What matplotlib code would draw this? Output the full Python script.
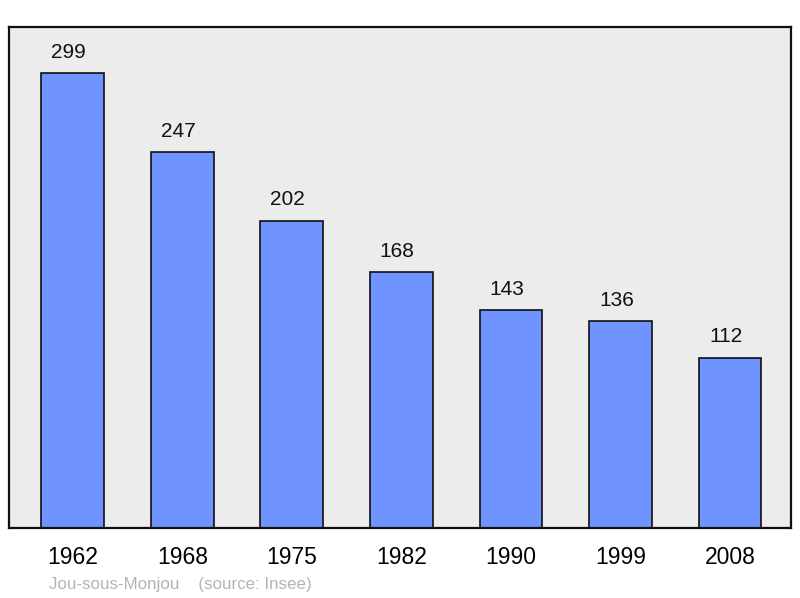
import matplotlib
matplotlib.use("Agg")
import matplotlib.pyplot as plt

years = ["1962", "1968", "1975", "1982", "1990", "1999", "2008"]
population = [299, 247, 202, 168, 143, 136, 112]

plt.rcParams['font.family'] = ['Liberation Sans', 'DejaVu Sans']

fig = plt.figure(figsize=(8, 5.98), dpi=100)
ax = fig.add_axes([9/800, 70/598, 782/800, 501/598])
ax.set_facecolor('#ececec')
ax.set_xlim(-0.584, 6.557)
ax.set_ylim(0, 501/1.522)

x = list(range(len(years)))
ax.bar(x, population, width=0.575, color='#7094ff', edgecolor='#111111', linewidth=1.2, zorder=2)
for xi, v in zip(x, population):
    ax.annotate(str(v), (xi, v), xytext=(-3, 8), textcoords='offset points',
                ha='center', va='bottom', fontsize=15, color='#111111')

ax.set_xticks(x)
ax.set_xticklabels(years, fontsize=16.5)
ax.tick_params(axis='x', length=0, pad=13)
ax.set_yticks([])
for s in ax.spines.values():
    s.set_linewidth(1.6)
    s.set_color('#111111')

fig.text(49/800, 1 - 584/598, "Jou-sous-Monjou    (source: Insee)", fontsize=12.2,
         color='#b4b4b4', va='center', ha='left')

fig.savefig("out.png", dpi=100)
